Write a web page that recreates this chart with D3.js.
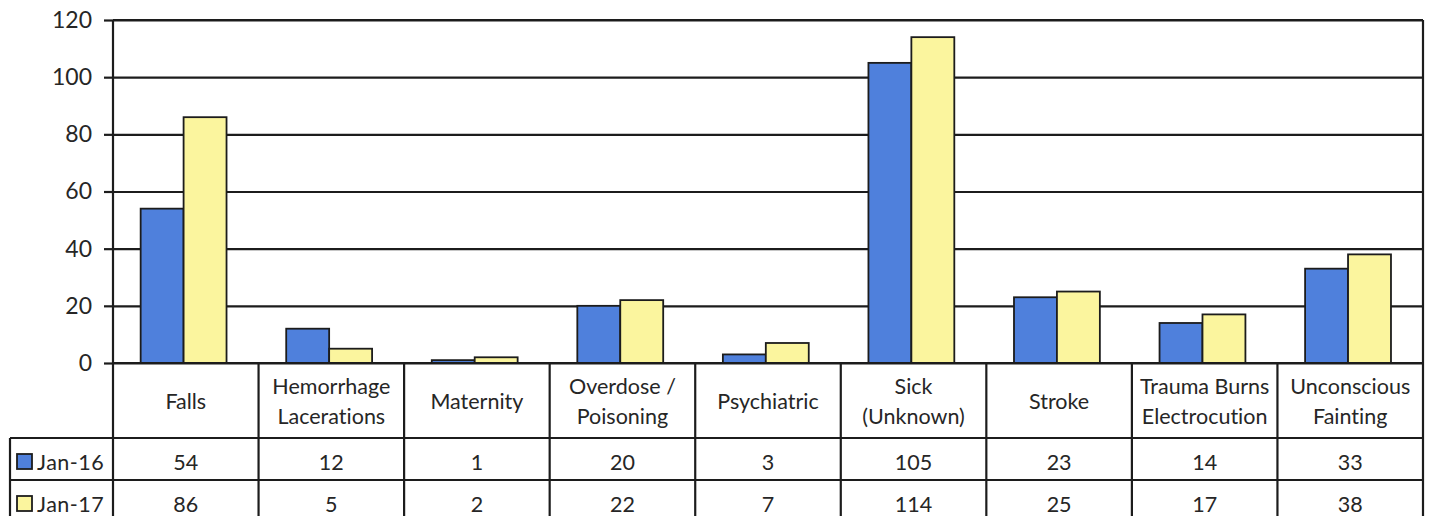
<!DOCTYPE html>
<html><head><meta charset="utf-8">
<script src="https://cdn.jsdelivr.net/npm/d3@7"></script>
<style>
html,body{margin:0;padding:0;background:#fff;}
svg{display:block;font-family:Lato,"Open Sans",sans-serif;font-variant-ligatures:none;font-feature-settings:"liga" 0,"clig" 0;}
</style></head>
<body><svg id="c" width="1431" height="516"></svg>
<script>
const categories = [["Falls"],["Hemorrhage","Lacerations"],["Maternity"],["Overdose /","Poisoning"],["Psychiatric"],["Sick","(Unknown)"],["Stroke"],["Trauma Burns","Electrocution"],["Unconscious","Fainting"]];
const seriesNames = ["Jan-16","Jan-17"];
const jan16 = [54,12,1,20,3,105,23,14,33];
const jan17 = [86,5,2,22,7,114,25,17,38];
const yTicks = [0,20,40,60,80,100,120];
const colors = ["#4F80DC","#FBF59E"];

const svg = d3.select("#c");
const L = 113, R = 1423, T = 20, B = 363;
const tableLeft = 10, row1 = 438, row2 = 480, bottom = 516;
const ink = "#1c1c1c", txt = "#262626";
const fs = "21.5px";

const catKeys = categories.map((c,i)=>i);
const x0 = d3.scaleBand().domain(catKeys).range([L,R]).padding(0);
const w = x0.bandwidth();
const x1 = d3.scaleBand().domain(seriesNames).range([w*0.19, w*0.78]).padding(0);
const y = d3.scaleLinear().domain([0,120]).range([B,T]);

// gridlines
const grid = svg.append("g").attr("transform",`translate(${L},0)`)
  .call(d3.axisLeft(y).tickValues(yTicks).tickSize(-(R-L)).tickFormat(""));
grid.select(".domain").remove();
grid.selectAll("line").attr("stroke",ink).attr("stroke-width",2.2);

// bars
const data = catKeys.map(i=>({i, vals:[jan16[i],jan17[i]]}));
const g = svg.append("g");
data.forEach(d=>{
  seriesNames.forEach((s,k)=>{
    g.append("rect")
      .attr("x", x0(d.i)+x1(s))
      .attr("y", y(d.vals[k]))
      .attr("width", x1.bandwidth())
      .attr("height", B - y(d.vals[k]))
      .attr("fill", colors[k])
      .attr("stroke", ink).attr("stroke-width",1.8);
  });
});

// y axis
const ya = svg.append("g").attr("transform",`translate(${L},0)`)
  .call(d3.axisLeft(y).tickValues(yTicks).tickSize(9).tickPadding(12));
ya.select(".domain").attr("stroke",ink).attr("stroke-width",2.2).attr("d",`M-0,${B}V${T}`);
ya.selectAll("line").attr("stroke",ink).attr("stroke-width",2.2);
ya.selectAll("text").attr("fill",txt).style("font-size","23px").style("font-family","Lato,'Open Sans',sans-serif");

// plot border
svg.append("line").attr("x1",R).attr("x2",R).attr("y1",T).attr("y2",bottom).attr("stroke",ink).attr("stroke-width",2.2);
svg.append("line").attr("x1",L).attr("x2",R).attr("y1",T).attr("y2",T).attr("stroke",ink).attr("stroke-width",2.2);

// table lines
const tbl = svg.append("g").attr("stroke",ink).attr("stroke-width",2.2);
tbl.append("line").attr("x1",L).attr("x2",R).attr("y1",B).attr("y2",B);
tbl.append("line").attr("x1",tableLeft).attr("x2",R).attr("y1",row1).attr("y2",row1);
tbl.append("line").attr("x1",tableLeft).attr("x2",R).attr("y1",row2).attr("y2",row2);
tbl.append("line").attr("x1",tableLeft).attr("x2",tableLeft).attr("y1",row1).attr("y2",bottom);
catKeys.forEach(i=>{
  tbl.append("line").attr("x1",x0(i)).attr("x2",x0(i)).attr("y1",B).attr("y2",bottom);
});

// header labels
const hdr = svg.append("g").attr("fill",txt).style("font-size",fs).attr("text-anchor","middle");
categories.forEach((lines,i)=>{
  const cx = x0(i)+w/2;
  const mid = (B+row1)/2 + 1;
  const lh = 30;
  lines.forEach((t,j)=>{
    hdr.append("text").attr("x",cx).attr("y", mid + (j-(lines.length-1)/2)*lh).attr("dy","0.35em").text(t);
  });
});

// values
const rows = [jan16, jan17];
const rowMid = [(row1+row2)/2+3, (row2+bottom)/2+6];
rows.forEach((vals,k)=>{
  vals.forEach((v,i)=>{
    svg.append("text").attr("x",x0(i)+w/2).attr("y",rowMid[k]).attr("dy","0.35em")
      .attr("text-anchor","middle").attr("fill",txt).style("font-size",fs).text(v);
  });
  svg.append("rect").attr("x",17).attr("y",rowMid[k]-8).attr("width",15).attr("height",15)
    .attr("fill",colors[k]).attr("stroke",ink).attr("stroke-width",1.8);
  svg.append("text").attr("x",37).attr("y",rowMid[k]).attr("dy","0.35em")
    .attr("fill",txt).style("font-size",fs).style("letter-spacing","0.5px").text(seriesNames[k]);
});
</script></body></html>
